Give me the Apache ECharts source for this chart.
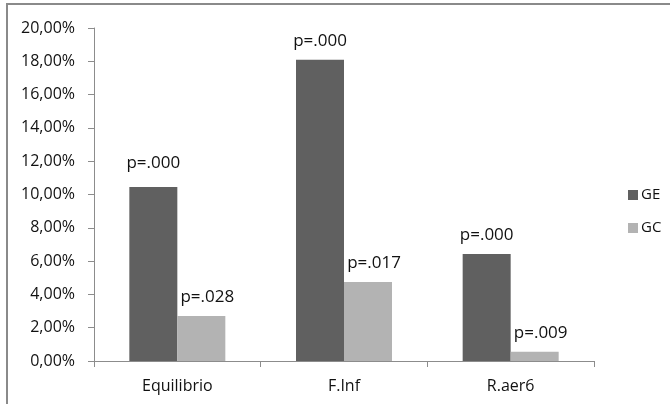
<!DOCTYPE html>
<html>
<head>
<meta charset="utf-8">
<script src="https://cdn.jsdelivr.net/npm/echarts@6/dist/echarts.min.js"></script>
<style>
  html, body { margin: 0; padding: 0; background: #fff; }
  #chart { width: 670px; height: 404px; }
</style>
</head>
<body>
<div id="chart"></div>
<script>
// Categories and series values (percent)
const categories = ['Equilibrio', 'F.Inf', 'R.aer6'];
const seriesNames = ['GE', 'GC'];
const valuesGE = [10.45, 18.1, 6.43];
const valuesGC = [2.7, 4.75, 0.56];
// Significance text shown above each bar
const pLabelsGE = ['p=.000', 'p=.000', 'p=.000'];
const pLabelsGC = ['p=.028', 'p=.017', 'p=.009'];
// Y axis range and step
const yMin = 0, yMax = 20, yStep = 2;

const FONT = '"Open Sans", sans-serif';
const AXIS_COLOR = '#8c8c8c';

const chart = echarts.init(document.getElementById('chart'), null, { renderer: 'canvas' });

// Builds one bar series; the first GE label sits a little higher than the rest
function barSeries(name, values, texts, color, offsetX, raiseFirst) {
  return {
    name: name,
    type: 'bar',
    data: values.map((v, i) => (raiseFirst && i === 0)
      ? { value: v, label: { offset: [offsetX, -5] } }
      : v),
    barWidth: 48,
    barGap: '0%',
    itemStyle: { color: color },
    label: {
      show: true,
      position: 'top',
      distance: 10,
      offset: [offsetX, 0],
      fontFamily: FONT,
      fontSize: 17,
      color: '#111',
      formatter: p => texts[p.dataIndex]
    }
  };
}

chart.setOption({
  animation: false,
  backgroundColor: '#fff',
  textStyle: { fontFamily: FONT },
  grid: { left: 94, right: 76, top: 28, bottom: 43, containLabel: false },
  legend: {
    orient: 'vertical',
    left: 623,
    top: 182,
    itemWidth: 10,
    itemHeight: 10,
    itemGap: 17,
    icon: 'rect',
    textStyle: { fontFamily: FONT, fontSize: 15, color: '#111', lineHeight: 16, padding: [0, 0, 0, -2] },
    data: seriesNames
  },
  xAxis: {
    type: 'category',
    data: categories,
    axisLine: { lineStyle: { color: AXIS_COLOR, width: 1 } },
    axisTick: { show: true, length: 6, lineStyle: { color: AXIS_COLOR } },
    axisLabel: { fontFamily: FONT, fontSize: 16, color: '#111', margin: 17 }
  },
  yAxis: {
    type: 'value',
    min: yMin,
    max: yMax,
    interval: yStep,
    splitLine: { show: false },
    axisLine: { show: true, lineStyle: { color: AXIS_COLOR, width: 1 } },
    axisTick: { show: true, length: 6, lineStyle: { color: AXIS_COLOR } },
    axisLabel: {
      fontFamily: FONT,
      fontSize: 16,
      color: '#111',
      margin: 19,
      formatter: v => v.toFixed(2).replace('.', ',') + '%'
    }
  },
  series: [
    barSeries(seriesNames[0], valuesGE, pLabelsGE, '#606060', 0, true),
    barSeries(seriesNames[1], valuesGC, pLabelsGC, '#b3b3b3', 6, false)
  ],
  graphic: [{
    type: 'rect',
    silent: true,
    shape: { x: 7, y: 4, width: 700, height: 500 },
    style: { fill: 'none', stroke: '#8a8a8a', lineWidth: 2 }
  }]
});
</script>
</body>
</html>
